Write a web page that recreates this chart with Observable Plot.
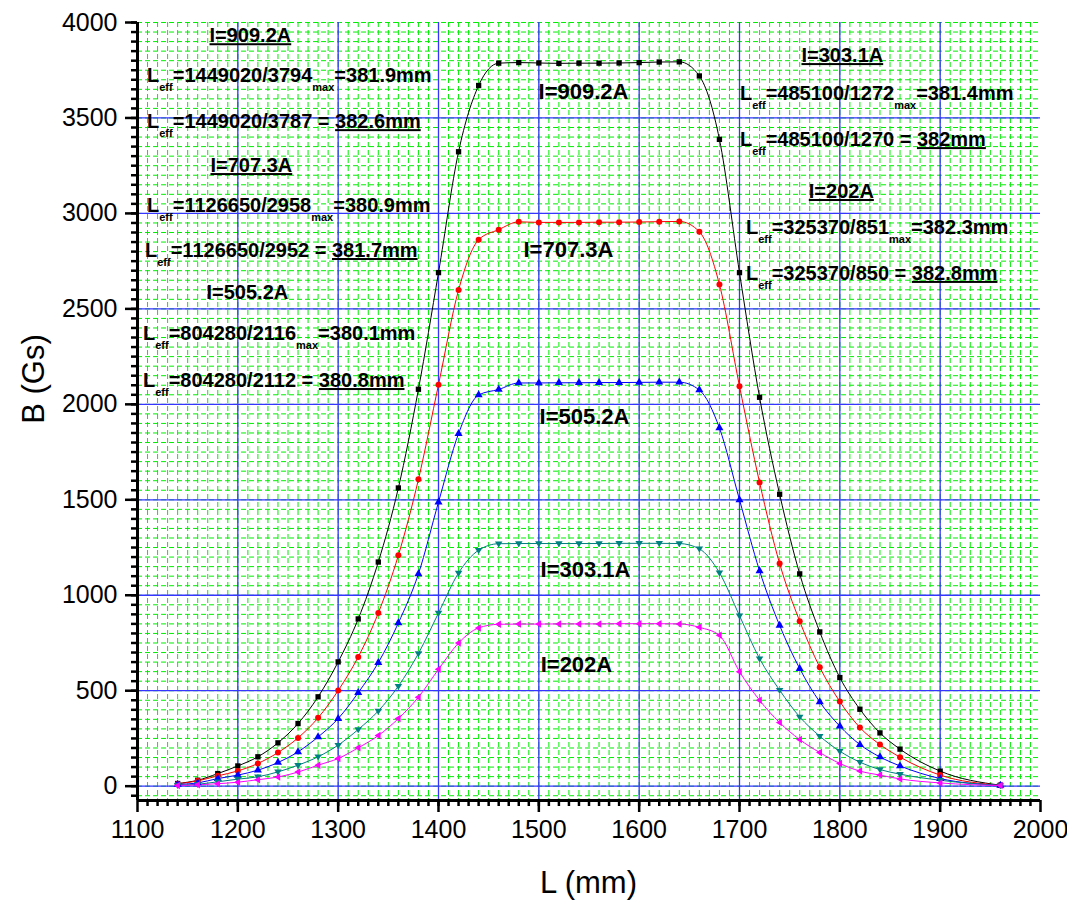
<!DOCTYPE html>
<html><head><meta charset="utf-8">
<script src="https://cdn.jsdelivr.net/npm/d3@7"></script>
<script src="https://cdn.jsdelivr.net/npm/@observablehq/plot@0.6"></script>
<style>
html,body{margin:0;padding:0;background:#fff;}
</style></head><body><div id="chart"></div>
<script>
// ---- data ----
const positions = [1140,1160,1180,1200,1220,1240,1260,1280,1300,1320,1340,1360,1380,1400,1420,1440,1460,1480,1500,1520,1540,1560,1580,1600,1620,1640,1660,1680,1700,1720,1740,1760,1780,1800,1820,1840,1860,1900,1960];
const b909 = [14,31,66,106,154,227,328,468,651,876,1174,1562,2079,2690,3323,3670,3787,3790,3788,3786,3787,3787,3788,3790,3793,3794,3720,3388,2690,2037,1529,1112,808,569,403,279,194,79,5];
const b707 = [12,28,54,80,119,176,253,358,501,677,907,1209,1607,2103,2599,2862,2915,2956,2953,2953,2953,2954,2954,2955,2957,2958,2904,2628,2095,1591,1166,864,623,443,307,218,152,58,5];
const b505 = [9,17,40,58,84,124,180,258,354,490,647,855,1112,1488,1847,2049,2078,2112,2112,2113,2113,2114,2114,2115,2116,2116,2075,1876,1500,1128,842,616,441,314,218,153,106,40,4];
const b303 = [5,10,23,37,49,75,110,154,215,297,394,524,695,907,1117,1236,1270,1271,1271,1271,1271,1271,1272,1272,1272,1271,1243,1118,893,668,503,363,262,183,126,87,63,31,3];
const b202 = [3,7,13,21,34,48,74,110,145,201,265,354,466,612,750,829,848,849,849,850,850,850,851,851,851,850,832,790,600,450,333,244,176,119,79,58,38,17,3];
const seriesNames = ["I=909.2A","I=707.3A","I=505.2A","I=303.1A","I=202A"];
const seriesValues = [b909,b707,b505,b303,b202];
const seriesColors = ["#000000","#ff0000","#0000ff","#008080","#ff00ff"];
const xTicks = [1100,1200,1300,1400,1500,1600,1700,1800,1900,2000];
const yTicks = [0,500,1000,1500,2000,2500,3000,3500,4000];
const xDomain = [1100,2000];
const yDomain = [-75,4000];

// annotation rows: [text, kind] ; kind "" plain, "sub" subscript, "u" underlined
const blockNotes = [
  {L:1213, B:3894, anchor:"middle", parts:[["I=909.2A","u"]]},
  {L:1110, B:3685, anchor:"start", parts:[["L",""],["eff","sub"],["=1449020/3794",""],["max","sub"],["=381.9mm",""]]},
  {L:1110, B:3444, anchor:"start", parts:[["L",""],["eff","sub"],["=1449020/3787 = ",""],["382.6mm","u"]]},
  {L:1214, B:3214, anchor:"middle", parts:[["I=707.3A","u"]]},
  {L:1110, B:3004, anchor:"start", parts:[["L",""],["eff","sub"],["=1126650/2958",""],["max","sub"],["=380.9mm",""]]},
  {L:1108, B:2769, anchor:"start", parts:[["L",""],["eff","sub"],["=1126650/2952 = ",""],["381.7mm","u"]]},
  {L:1210, B:2549, anchor:"middle", parts:[["I=505.2A",""]]},
  {L:1106, B:2334, anchor:"start", parts:[["L",""],["eff","sub"],["=804280/2116",""],["max","sub"],["=380.1mm",""]]},
  {L:1106, B:2088, anchor:"start", parts:[["L",""],["eff","sub"],["=804280/2112 = ",""],["380.8mm","u"]]},
  {L:1803, B:3790, anchor:"middle", parts:[["I=303.1A","u"]]},
  {L:1701, B:3591, anchor:"start", parts:[["L",""],["eff","sub"],["=485100/1272",""],["max","sub"],["=381.4mm",""]]},
  {L:1701, B:3350, anchor:"start", parts:[["L",""],["eff","sub"],["=485100/1270 = ",""],["382mm","u"]]},
  {L:1802, B:3078, anchor:"middle", parts:[["I=202A","u"]]},
  {L:1707, B:2889, anchor:"start", parts:[["L",""],["eff","sub"],["=325370/851",""],["max","sub"],["=382.3mm",""]]},
  {L:1707, B:2649, anchor:"start", parts:[["L",""],["eff","sub"],["=325370/850 = ",""],["382.8mm","u"]]}
];
const curveLabelL = [1545,1530,1546,1547,1538];
const curveLabelB = [3596,2769,1895,1094,597];

// ---- build ----
const rows = seriesNames.flatMap((name, i) => positions.map((L, j) => ({L, B: seriesValues[i][j], series: name})));

const triDown = {draw(ctx, size){ const r = Math.sqrt(size/Math.PI)*1.25; ctx.moveTo(-r,-r*0.6); ctx.lineTo(r,-r*0.6); ctx.lineTo(0,r*1.0); ctx.closePath(); }};
const triLeft = {draw(ctx, size){ const r = Math.sqrt(size/Math.PI)*1.25; ctx.moveTo(-r,0); ctx.lineTo(r*0.6,-r); ctx.lineTo(r*0.6,r); ctx.closePath(); }};
const symbols = ["square","circle","triangle",triDown,triLeft];

const minorX = d3.range(1110, 2000, 10);
const minorY = d3.range(-50, 4001, 50);
const font = "'Liberation Sans', Arial, sans-serif";

const chart = Plot.plot({
  width: 1067, height: 915,
  marginLeft: 137, marginRight: 27, marginTop: 22, marginBottom: 115,
  style: {fontFamily: font, fontSize: "25px", color: "#000", background: "#fff"},
  x: {domain: xDomain},
  y: {domain: yDomain},
  marks: [
    Plot.gridX({ticks: minorX, stroke: "#00ee00", strokeOpacity: 1, strokeWidth: 1, strokeDasharray: "5,3"}),
    Plot.gridY({ticks: minorY, stroke: "#00ee00", strokeOpacity: 1, strokeWidth: 1, strokeDasharray: "5,3"}),
    Plot.gridX({ticks: xTicks.slice(1, -1), stroke: "#3535ff", strokeOpacity: 1, strokeWidth: 1.3}),
    Plot.gridY({ticks: yTicks.slice(0, -1), stroke: "#3535ff", strokeOpacity: 1, strokeWidth: 1.3}),
    ...seriesNames.map((name, i) => Plot.line(rows.filter(d => d.series === name), {x: "L", y: "B", stroke: seriesColors[i], strokeWidth: 1, curve: "monotone-x"})),
    ...seriesNames.map((name, i) => Plot.dot(rows.filter(d => d.series === name), {x: "L", y: "B", fill: seriesColors[i], stroke: "none", r: 3, symbol: symbols[i]})),
    Plot.ruleX([xDomain[0]], {stroke: "#000", strokeWidth: 3}),
    Plot.ruleY([yDomain[0]], {stroke: "#000", strokeWidth: 3}),
    Plot.axisX({ticks: minorX, tickSize: 6, strokeWidth: 2.5, tickFormat: () => "", label: null}),
    Plot.axisX({ticks: xTicks, tickSize: 12, tickPadding: 8, strokeWidth: 2.5, tickFormat: d => String(d), label: null, fontSize: 25}),
    Plot.axisY({ticks: minorY, tickSize: 6, strokeWidth: 2.5, tickFormat: () => "", label: null}),
    Plot.axisY({ticks: yTicks, tickSize: 12, tickPadding: 8, strokeWidth: 2.5, tickFormat: d => String(d), label: null, fontSize: 25})
  ]
});

const x = chart.scale("x"), y = chart.scale("y");
const svg = d3.select(chart);
const g = svg.append("g").attr("font-family", font).attr("fill", "#000");

function addNote(n, size){
  const t = g.append("text").attr("x", x.apply(n.L)).attr("y", y.apply(n.B))
    .attr("text-anchor", n.anchor).attr("font-size", size).attr("font-weight", "bold")
    .style("white-space", "pre");
  let shifted = false;
  for (const [s, k] of n.parts) {
    const ts = t.append("tspan").text(s);
    if (k === "sub") { ts.attr("font-size", 11).attr("dy", shifted ? 0 : 9); shifted = true; }
    else {
      if (shifted) { ts.attr("dy", -9); shifted = false; }
      if (k === "u") ts.style("text-decoration", "underline");
    }
  }
}
blockNotes.forEach(n => addNote(n, 20));
seriesNames.forEach((name, i) => addNote({L: curveLabelL[i], B: curveLabelB[i], anchor: "middle", parts: [[name, ""]]}, 22));

// axis titles
g.append("text").attr("x", x.apply(1550)).attr("y", 893).attr("text-anchor", "middle").attr("font-size", 31).text("L (mm)");
g.append("text").attr("transform", `translate(44,${y.apply(2130)}) rotate(-90)`).attr("text-anchor", "middle").attr("font-size", 31).text("B (Gs)");

document.getElementById("chart").appendChild(chart);
</script>
</body></html>
